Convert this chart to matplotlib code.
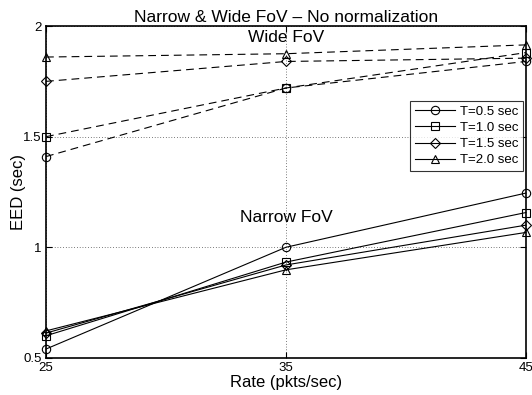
import matplotlib

matplotlib.use("Agg")
import matplotlib.pyplot as plt

plt.rcParams["font.family"] = ["Liberation Sans", "DejaVu Sans"]

rates = [25, 35, 45]
labels = ["T=0.5 sec", "T=1.0 sec", "T=1.5 sec", "T=2.0 sec"]
markers = ["o", "s", "D", "^"]

# end-to-end delay, wide field of view
wide = [
    [1.41, 1.72, 1.84],
    [1.50, 1.72, 1.88],
    [1.75, 1.84, 1.855],
    [1.86, 1.875, 1.915],
]
# end-to-end delay, narrow field of view
narrow = [
    [0.54, 1.00, 1.245],
    [0.60, 0.933, 1.157],
    [0.612, 0.92, 1.10],
    [0.622, 0.898, 1.067],
]

fig = plt.figure(figsize=(5.32, 3.95), dpi=100)
ax = fig.add_axes([0.0865, 0.094, 0.902, 0.84])

handles = []
for i, lab in enumerate(labels):
    ms = 6 if markers[i] != "D" else 5
    ax.plot(rates, wide[i], "--", color="black", lw=0.8, marker=markers[i],
            ms=ms, mfc="none", mec="black", mew=0.8, dashes=(7, 4.5), clip_on=False)
    h, = ax.plot(rates, narrow[i], "-", color="black", lw=0.8, marker=markers[i],
                 ms=ms, mfc="none", mec="black", mew=0.8, clip_on=False)
    handles.append(h)

ax.set_xlim(25, 45)
ax.set_ylim(0.5, 2)
ax.set_xticks([25, 35, 45])
ax.set_yticks([0.5, 1, 1.5, 2])
ax.set_yticklabels(["0.5", "1", "1.5", "2"])
ax.grid(True, linestyle=(0, (1, 3)), color="black", lw=0.5)
ax.tick_params(direction="in", length=4, width=0.8, labelsize=9.5,
               top=True, right=True, pad=3)
for s in ax.spines.values():
    s.set_linewidth(1.2)

ax.set_title("Narrow & Wide FoV \u2013 No normalization", fontsize=12.5, pad=3)
ax.set_xlabel("Rate (pkts/sec)", fontsize=12, labelpad=1)
ax.set_ylabel("EED (sec)", fontsize=12, labelpad=-2)

ax.text(35, 1.95, "Wide FoV", ha="center", va="center", fontsize=12.5)
ax.text(35, 1.136, "Narrow FoV", ha="center", va="center", fontsize=12.5)

leg = ax.legend(handles, labels, loc="upper right", bbox_to_anchor=(0.994, 0.774),
                fontsize=9.5, frameon=True, fancybox=False, edgecolor="black",
                handlelength=3, handletextpad=0.4, borderpad=0.35, labelspacing=0.3,
                borderaxespad=0)
leg.get_frame().set_linewidth(0.8)

fig.savefig("out.png", dpi=100)
